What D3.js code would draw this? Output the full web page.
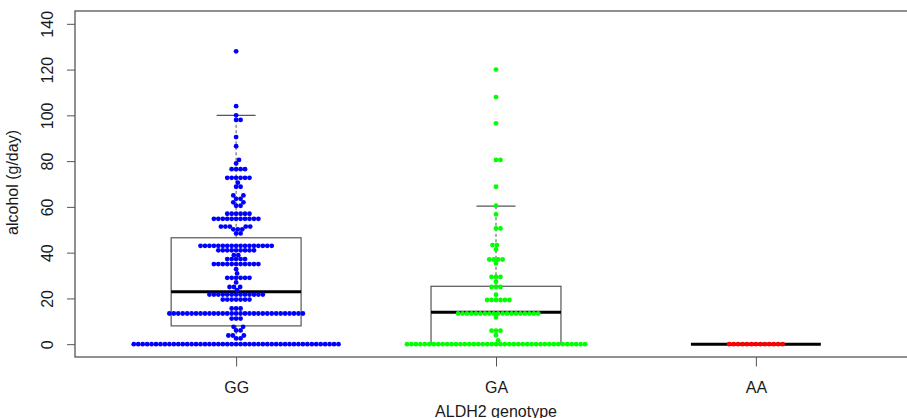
<!DOCTYPE html>
<html>
<head>
<meta charset="utf-8">
<script src="https://cdn.jsdelivr.net/npm/d3@7"></script>
<style>
  body { margin: 0; background: #fff; }
  svg { display: block; }
  text { font-family: "Liberation Sans", Arial, sans-serif; fill: #1a1a1a; }
</style>
</head>
<body>
<svg id="chart" width="907" height="418"></svg>
<script>
// ------------------------------
// data
// ------------------------------
const genotypes = ["GG", "GA", "AA"];
const dotColors = ["#0000ff", "#00ff00", "#ff0000"];

// alcohol intake (g/day) values and how many subjects share each value
const ggValues = [0, 2.5, 3.8, 6, 7.6, 11.2, 13.4, 15.6, 19.5, 21.7, 23.6, 25, 27, 29, 30.9, 32.8,
  35, 37.2, 38.9, 41, 43, 48.4, 50.2, 51.4, 54.8, 57, 60.5, 62, 63.5, 65, 68.8, 70.6, 72.7,
  76.5, 79, 80.5, 86.5, 90.5, 98, 100, 104, 128];
const ggCounts = [47, 2, 3, 2, 2, 3, 31, 3, 7, 13, 1, 3, 1, 6, 1, 1,
  11, 5, 2, 9, 17, 2, 3, 5, 11, 6, 2, 2, 2, 2, 2, 1, 6,
  4, 1, 1, 1, 1, 2, 1, 1, 1];

const gaValues = [0, 1.7, 3.9, 5.9, 11.7, 13.4, 19.3, 21.6, 25, 27.3, 29.4, 35.3, 37, 41.4, 43.3,
  50.6, 56.7, 60.5, 68.8, 80.5, 96.5, 108, 120];
const gaCounts = [41, 1, 1, 3, 1, 19, 6, 1, 3, 1, 3, 1, 4, 1, 2,
  2, 1, 1, 1, 2, 1, 1, 1];

const aaValues = [0];
const aaCounts = [13];

// box statistics
const lowerWhisker = [0, 0, 0];
const lowerHinge = [8, 0, 0];
const medians = [22.9, 14, 0];
const upperHinge = [46.5, 25.3, 0];
const upperWhisker = [100, 60.3, 0];

const yTicks = [0, 20, 40, 60, 80, 100, 120, 140];

// ------------------------------
// setup
// ------------------------------
const svg = d3.select("#chart");

// plot region (R style, axes extended 4% past the limits)
const xScale = d3.scaleLinear().domain([0.38, 3.62]).range([75, 917]);
const yScale = d3.scaleLinear().domain([-5.6, 145.6]).range([357, 11]);

const boxHalf = xScale(1.25) - xScale(1);
const capHalf = xScale(1.075) - xScale(1);
const dotSize = 4.45; // distance between neighbouring dots, px

//
// beeswarm ("swarm" method, ascending priority)
//
function swarm(pys, d) {
  const placed = [];
  return pys.map((py) => {
    const near = placed.filter((p) => Math.abs(p.y - py) < d);
    let best = 0;
    if (near.length) {
      const cands = [0];
      near.forEach((p) => cands.push(p.x + Math.sqrt(d * d - (py - p.y) ** 2)));
      near.forEach((p) => cands.push(p.x - Math.sqrt(d * d - (py - p.y) ** 2)));
      best = Infinity;
      cands.forEach((c) => {
        const bad = near.some((p) => (c - p.x) ** 2 + (py - p.y) ** 2 < 0.999 * d * d);
        if (!bad && Math.abs(c) < Math.abs(best)) best = c;
      });
    }
    placed.push({ x: best, y: py });
    return best;
  });
}

function expand(values, counts) {
  const out = [];
  values.forEach((v, i) => {
    for (let k = 0; k < counts[i]; k++) out.push(v);
  });
  return out.sort(d3.ascending);
}

const groups = [
  expand(ggValues, ggCounts),
  expand(gaValues, gaCounts),
  expand(aaValues, aaCounts),
];

// ------------------------------
// boxes
// ------------------------------
const boxG = svg.append("g");
genotypes.forEach((g, i) => {
  const cx = xScale(i + 1);
  // whiskers
  boxG.append("line")
    .attr("x1", cx).attr("x2", cx)
    .attr("y1", yScale(upperHinge[i])).attr("y2", yScale(upperWhisker[i]))
    .attr("stroke", "#555").attr("stroke-dasharray", "3,2.5");
  boxG.append("line")
    .attr("x1", cx).attr("x2", cx)
    .attr("y1", yScale(lowerHinge[i])).attr("y2", yScale(lowerWhisker[i]))
    .attr("stroke", "#555").attr("stroke-dasharray", "3,2.5");
  if (upperWhisker[i] > upperHinge[i]) {
    boxG.append("line")
      .attr("x1", cx - capHalf).attr("x2", cx + capHalf)
      .attr("y1", yScale(upperWhisker[i])).attr("y2", yScale(upperWhisker[i]))
      .attr("stroke", "#555").attr("stroke-width", 1.2);
  }
  if (lowerWhisker[i] < lowerHinge[i]) {
    boxG.append("line")
      .attr("x1", cx - capHalf).attr("x2", cx + capHalf)
      .attr("y1", yScale(lowerWhisker[i])).attr("y2", yScale(lowerWhisker[i]))
      .attr("stroke", "#555").attr("stroke-width", 1.2);
  }
  // box
  if (upperHinge[i] > lowerHinge[i]) {
    boxG.append("rect")
      .attr("x", cx - boxHalf)
      .attr("y", yScale(upperHinge[i]))
      .attr("width", boxHalf * 2)
      .attr("height", yScale(lowerHinge[i]) - yScale(upperHinge[i]))
      .attr("fill", "none").attr("stroke", "#555").attr("stroke-width", 1.2);
  }
  // median
  boxG.append("line")
    .attr("x1", cx - boxHalf).attr("x2", cx + boxHalf)
    .attr("y1", yScale(medians[i])).attr("y2", yScale(medians[i]))
    .attr("stroke", "#000").attr("stroke-width", 3);
});

// ------------------------------
// dots
// ------------------------------
groups.forEach((vals, i) => {
  const pys = vals.map((v) => yScale(v));
  const offs = swarm(pys, dotSize);
  svg.append("g")
    .selectAll("circle")
    .data(vals)
    .enter()
    .append("circle")
    .attr("cx", (d, k) => xScale(i + 1) + offs[k])
    .attr("cy", (d) => yScale(d))
    .attr("r", 2.4)
    .style("fill", dotColors[i]);
});

// ------------------------------
// axes + frame
// ------------------------------
const yAxis = svg.append("g")
  .attr("transform", "translate(75,0)")
  .call(d3.axisLeft(yScale).tickValues(yTicks).tickSize(8).tickFormat(d3.format("d")));
yAxis.select(".domain").remove();
yAxis.selectAll("line").attr("stroke", "#555");
yAxis.selectAll("text")
  .attr("x", 0).attr("dy", 0)
  .attr("transform", "translate(-22,0) rotate(-90)")
  .attr("text-anchor", "middle")
  .style("font-size", "16px")
  .style("font-family", "'Liberation Sans', Arial, sans-serif")
  .style("fill", "#1a1a1a");

const xAxis = svg.append("g")
  .attr("transform", "translate(0,357)")
  .call(d3.axisBottom(xScale).tickValues([1, 2, 3]).tickSize(9.5)
    .tickFormat((d) => genotypes[d - 1]));
xAxis.select(".domain").remove();
xAxis.selectAll("line").attr("stroke", "#555");
xAxis.selectAll("text")
  .attr("y", 35.5).attr("dy", 0)
  .style("font-size", "16px")
  .style("font-family", "'Liberation Sans', Arial, sans-serif")
  .style("fill", "#1a1a1a");

svg.append("rect")
  .attr("x", 75).attr("y", 11)
  .attr("width", 842).attr("height", 346)
  .attr("fill", "none").attr("stroke", "#555").attr("stroke-width", 1.3);

// axis titles
svg.append("text")
  .attr("x", xScale(2)).attr("y", 416.5)
  .attr("text-anchor", "middle")
  .style("font-size", "16px")
  .text("ALDH2 genotype");

svg.append("text")
  .attr("text-anchor", "middle")
  .attr("transform", "translate(18,182.5) rotate(-90)")
  .style("font-size", "16px")
  .text("alcohol (g/day)");
</script>
</body>
</html>
